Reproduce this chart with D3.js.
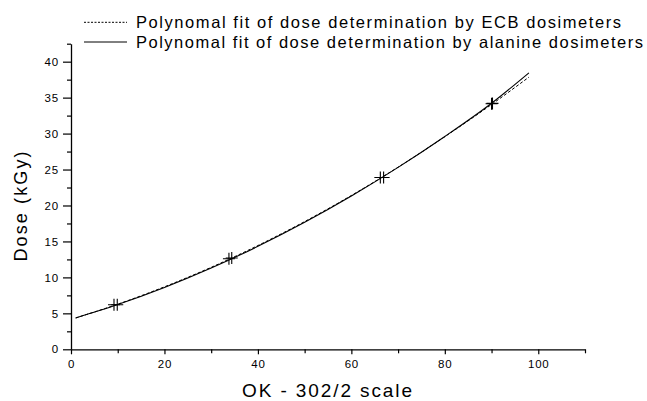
<!DOCTYPE html>
<html><head><meta charset="utf-8">
<script src="https://cdn.jsdelivr.net/npm/d3@7"></script>
<style>body{margin:0;background:#fff}svg{display:block}text{font-family:"Liberation Sans",Arial,sans-serif;fill:#000}</style>
</head><body>
<svg id="c" width="647" height="401"></svg>
<script>
// Data
const fitX = [1, 10, 20, 30, 40, 50, 60, 70, 80, 90, 98];
const ecbFitY = [4.36, 6.27, 8.69, 11.40, 14.43, 17.76, 21.39, 25.33, 29.57, 34.05, 37.85];
const alanineFitY = [4.35, 6.22, 8.60, 11.30, 14.32, 17.66, 21.32, 25.30, 29.60, 34.22, 38.45];
const ecbPtX = [9.2, 33.8, 66.2, 90.0];
const ecbPtY = [6.2, 12.6, 23.9, 34.15];
const alaninePtX = [9.9, 34.4, 66.9, 90.2];
const alaninePtY = [6.2, 12.7, 23.9, 34.2];
const xTicks = [0, 20, 40, 60, 80, 100];
const yTicks = [0, 5, 10, 15, 20, 25, 30, 35, 40];
const legendLabels = ["Polynomal fit of dose determination by ECB dosimeters",
                      "Polynomal fit of dose determination by alanine dosimeters"];

const svg = d3.select("#c");
const x = d3.scaleLinear().domain([0, 110]).range([71, 585]);
const y = d3.scaleLinear().domain([0, 42.5]).range([349.3, 43.7]);

// axes
const xMinor = d3.range(0, 111, 10).filter(v => !xTicks.includes(v));
const yMinor = d3.range(0, 42.6, 2.5).filter(v => !yTicks.includes(v));
const gx = svg.append("g").attr("transform", `translate(0,${y(0)})`);
gx.call(d3.axisBottom(x).tickValues(xTicks).tickSize(5).tickPadding(6).tickSizeOuter(0));
gx.append("g").call(d3.axisBottom(x).tickValues(xMinor).tickSize(4).tickFormat("")).select(".domain").remove();
const gy = svg.append("g").attr("transform", `translate(${x(0)},0)`);
gy.call(d3.axisLeft(y).tickValues(yTicks).tickSize(8).tickPadding(4).tickSizeOuter(0));
gy.append("g").call(d3.axisLeft(y).tickValues(yMinor).tickSize(4).tickFormat("")).select(".domain").remove();
svg.selectAll(".domain").attr("stroke", "#000").attr("stroke-width", 1.3);
svg.selectAll(".tick line").attr("stroke", "#000").attr("stroke-width", 1.2);
svg.selectAll(".tick text").attr("font-size", 11.5).attr("letter-spacing", 0.8)
  .attr("font-family", "Liberation Sans, Arial, sans-serif").attr("fill", "#000");

// axis titles
svg.append("text").attr("x", (x(0) + x(110)) / 2 - 1).attr("y", 397).attr("text-anchor", "middle")
  .attr("font-size", 19).attr("textLength", 170).attr("lengthAdjust", "spacing").text("OK - 302/2 scale");
svg.append("text").attr("transform", `translate(27,${(y(0)+y(42.5))/2 + 10}) rotate(-90)`).attr("text-anchor", "middle")
  .attr("font-size", 18).attr("textLength", 110).attr("lengthAdjust", "spacing").text("Dose (kGy)");

// curves
const line = d3.line().curve(d3.curveMonotoneX);
svg.append("path").attr("d", line(fitX.map((v, i) => [x(v), y(ecbFitY[i])])))
  .attr("fill", "none").attr("stroke", "#000").attr("stroke-width", 1).attr("stroke-dasharray", "3,2");
svg.append("path").attr("d", line(fitX.map((v, i) => [x(v), y(alanineFitY[i])])))
  .attr("fill", "none").attr("stroke", "#000").attr("stroke-width", 1.1);

// markers
function crossPath(px, py) { const s = 6; return `M${px - s},${py}H${px + s}M${px},${py - s}V${py + s}`; }
[[ecbPtX, ecbPtY], [alaninePtX, alaninePtY]].forEach(([xs, ys]) => {
  svg.append("g").selectAll("path").data(xs).join("path")
    .attr("d", (d, i) => crossPath(x(d), y(ys[i])))
    .attr("stroke", "#000").attr("stroke-width", 1.1).attr("fill", "none");
});

// legend
const lg = svg.append("g");
const legendY = [22.3, 42];
const dashes = ["2,1.5", null];
legendLabels.forEach((lab, i) => {
  lg.append("line").attr("x1", 84).attr("x2", 127).attr("y1", legendY[i]).attr("y2", legendY[i])
    .attr("stroke", "#000").attr("stroke-width", 1).attr("stroke-dasharray", dashes[i]);
  lg.append("text").attr("x", 136).attr("y", legendY[i] + 5.8).attr("font-size", 16.5)
    .attr("textLength", i === 0 ? 485 : 507).attr("lengthAdjust", "spacing").text(lab);
});
</script>
</body></html>
